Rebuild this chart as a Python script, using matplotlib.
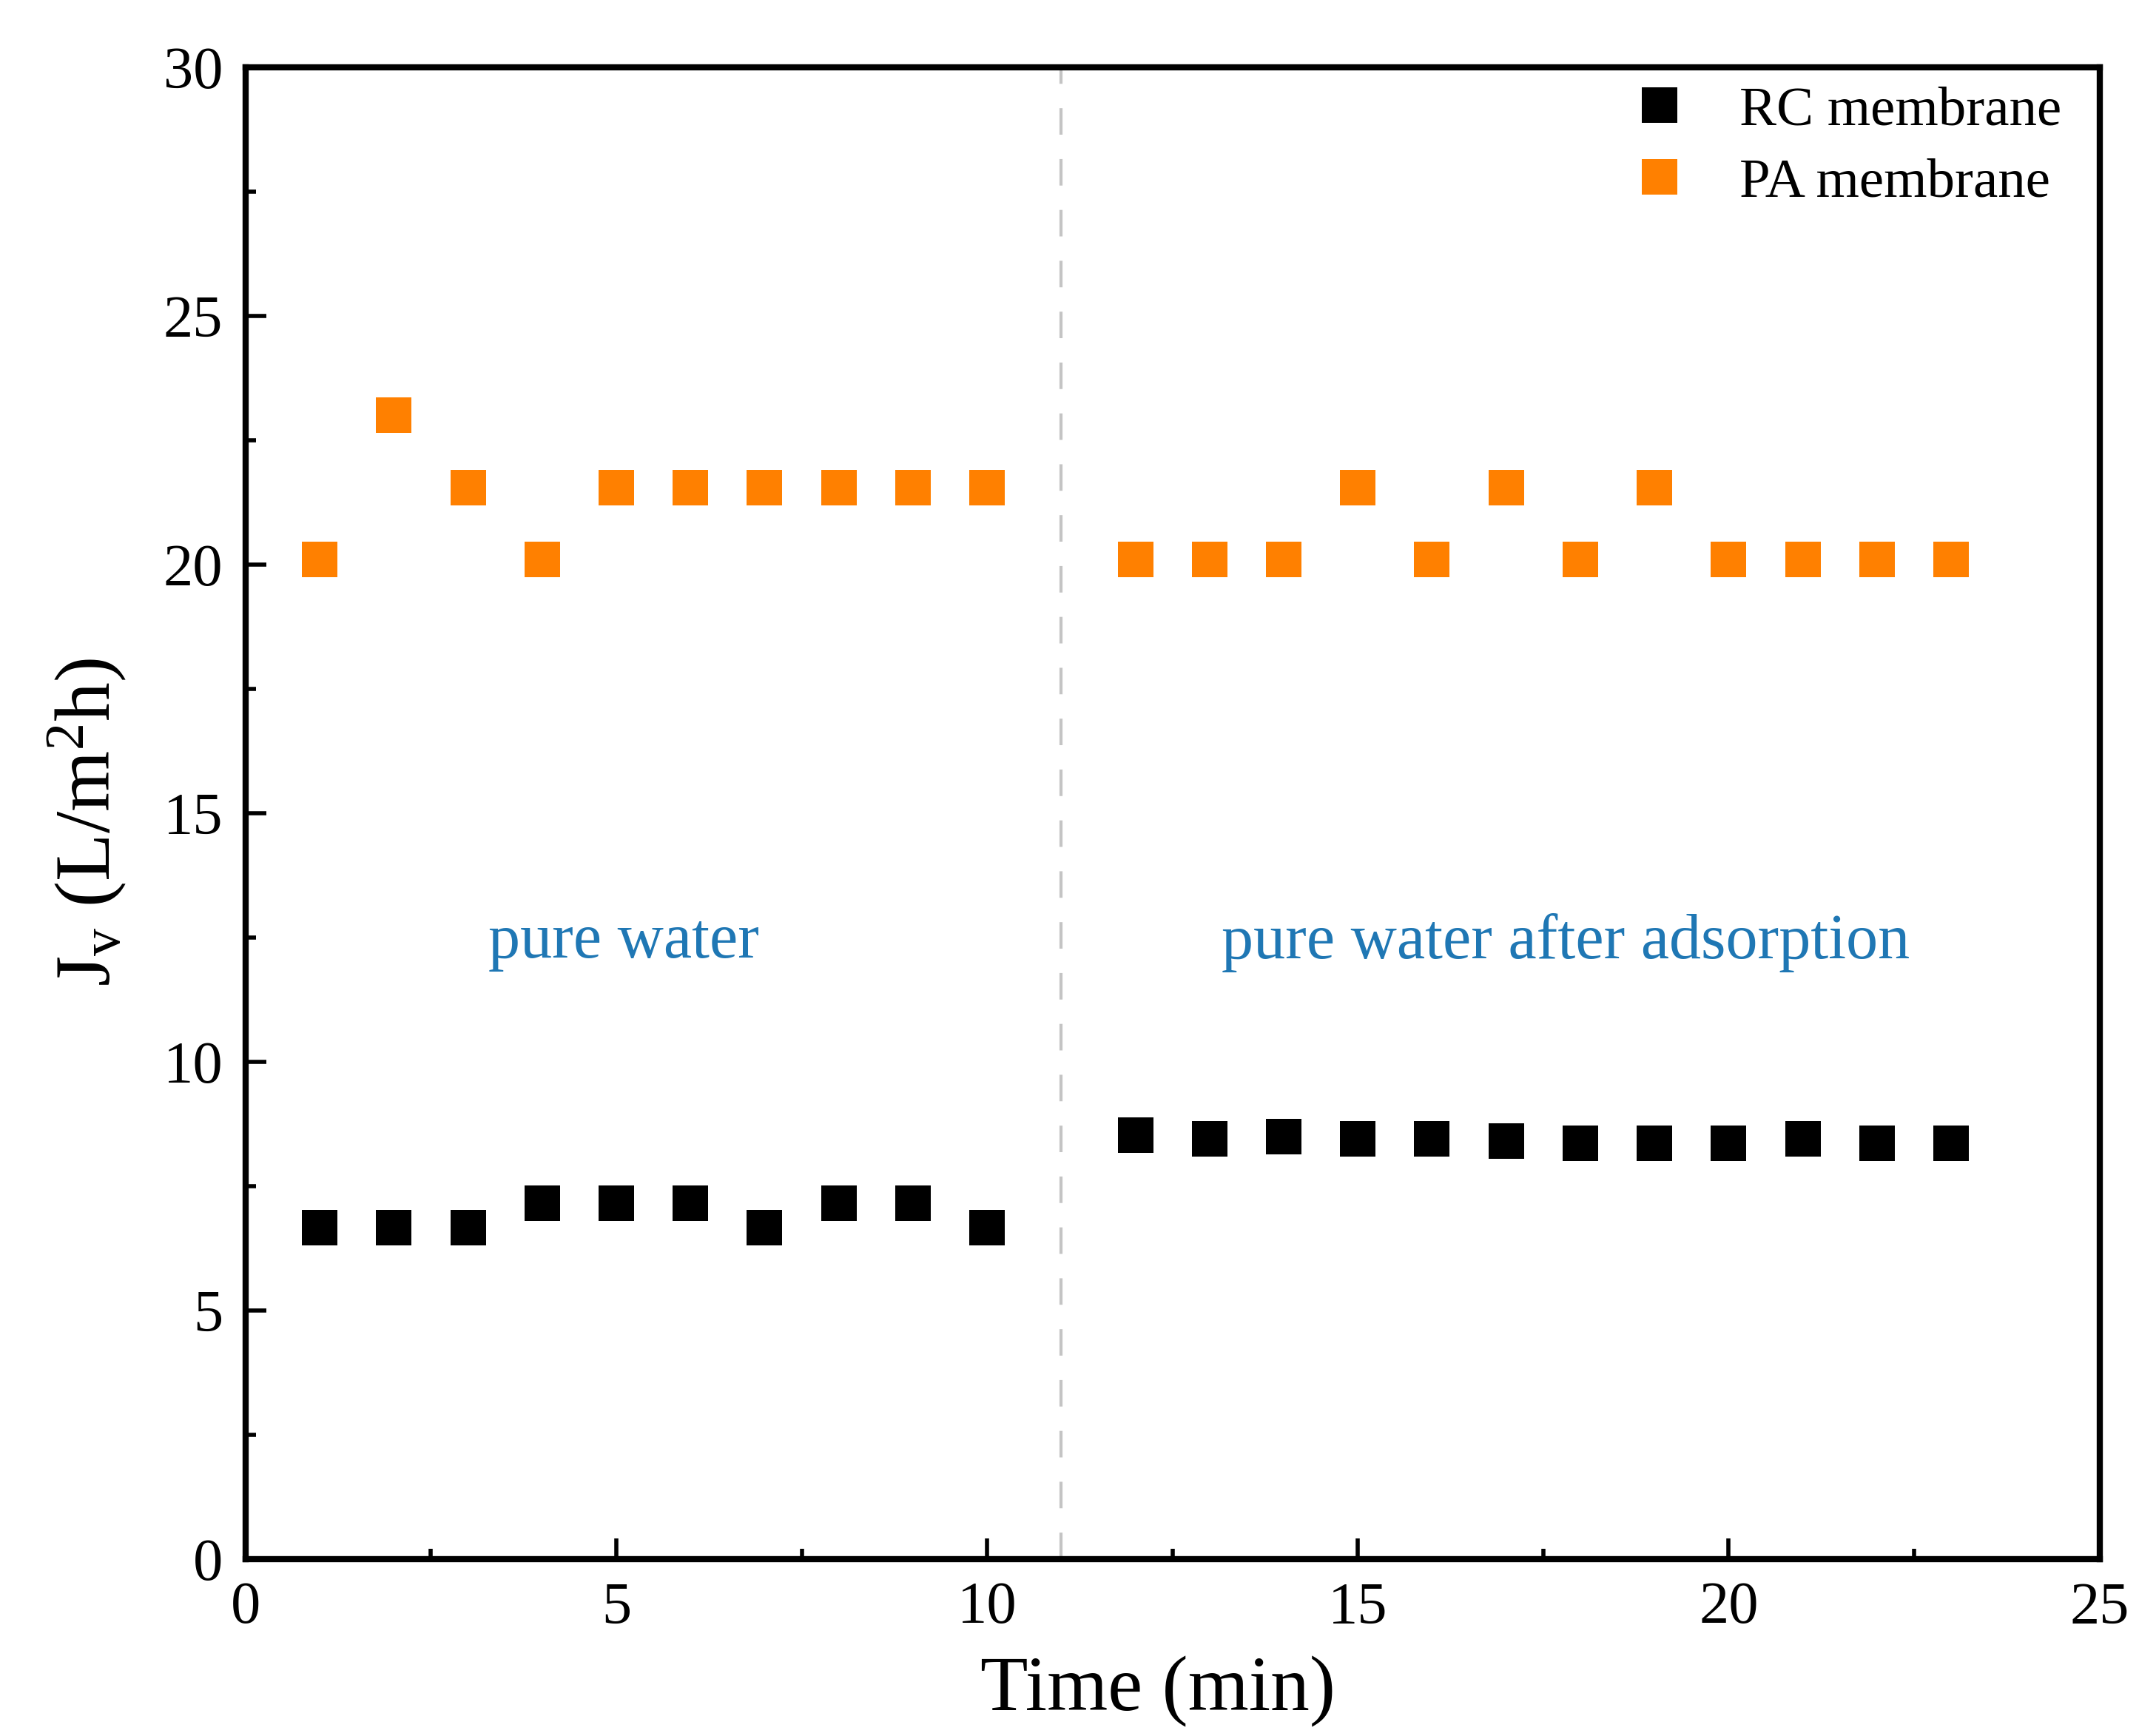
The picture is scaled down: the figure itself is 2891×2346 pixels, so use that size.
import matplotlib
matplotlib.use("Agg")
import matplotlib.pyplot as plt
from matplotlib.ticker import MultipleLocator

plt.rcParams['font.family'] = ['Liberation Serif', 'DejaVu Serif']
plt.rcParams['mathtext.fontset'] = 'custom'
plt.rcParams['mathtext.rm'] = 'Liberation Serif'
plt.rcParams['mathtext.it'] = 'Liberation Serif:italic'

# Data
time_rc = [1, 2, 3, 4, 5, 6, 7, 8, 9, 10, 12, 13, 14, 15, 16, 17, 18, 19, 20, 21, 22, 23]
rc_flux = [6.67, 6.67, 6.67, 7.15, 7.15, 7.15, 6.67, 7.15, 7.15, 6.67,
           8.53, 8.45, 8.50, 8.45, 8.45, 8.41, 8.37, 8.37, 8.36, 8.45, 8.37, 8.36]
time_pa = [1, 2, 3, 4, 5, 6, 7, 8, 9, 10, 12, 13, 14, 15, 16, 17, 18, 19, 20, 21, 22, 23]
pa_flux = [20.1, 23.0, 21.55, 20.1, 21.55, 21.55, 21.55, 21.55, 21.55, 21.55,
           20.1, 20.1, 20.1, 21.55, 20.1, 21.55, 20.1, 21.55, 20.1, 20.1, 20.1, 20.1]
series_labels = ['RC membrane', 'PA membrane']
divider_x = 11
region_labels = ['pure water', 'pure water after adsorption']
region_label_x = [5.1, 17.8]
region_label_y = 12.4

DPI = 100
fig = plt.figure(figsize=(28.91, 23.46), dpi=DPI)
ax = fig.add_axes([0.1148, 0.1019, 0.8667, 0.8593])

ms = 35
ax.plot(time_rc, rc_flux, linestyle='none', marker='s', ms=ms, color='black',
        markeredgewidth=0, label=series_labels[0])
ax.plot(time_pa, pa_flux, linestyle='none', marker='s', ms=ms, color='#ff8000',
        markeredgewidth=0, label=series_labels[1])

ax.axvline(divider_x, color='#c4c4c4', lw=3, dashes=(8.6, 7.9))

for lab, xx in zip(region_labels, region_label_x):
    ax.text(xx, region_label_y, lab, color='#1f77b4', fontsize=62,
            ha='center', va='center')

ax.set_xlim(0, 25)
ax.set_ylim(0, 30)
ax.xaxis.set_major_locator(MultipleLocator(5))
ax.xaxis.set_minor_locator(MultipleLocator(2.5))
ax.yaxis.set_major_locator(MultipleLocator(5))
ax.yaxis.set_minor_locator(MultipleLocator(2.5))
ax.tick_params(which='both', direction='in', top=False, right=False, width=4,
               labelsize=58, pad=22)
ax.tick_params(which='major', length=20)
ax.tick_params(which='minor', length=10)
for s in ax.spines.values():
    s.set_linewidth(6)

ax.set_xlabel('Time (min)', fontsize=76, labelpad=20)
ax.xaxis.label.set_x(0.492)
ax.set_ylabel(r'J$_\mathrm{v}$ (L/m$^2$h)', fontsize=76, labelpad=34)
ax.yaxis.label.set_y(0.494)

leg = ax.legend(loc='upper left', frameon=False, fontsize=54,
                handlelength=1.0, handletextpad=0.94, borderaxespad=0,
                labelspacing=0.38, bbox_to_anchor=(0.7359, 1.0025))

fig.savefig('out.png', dpi=DPI)
